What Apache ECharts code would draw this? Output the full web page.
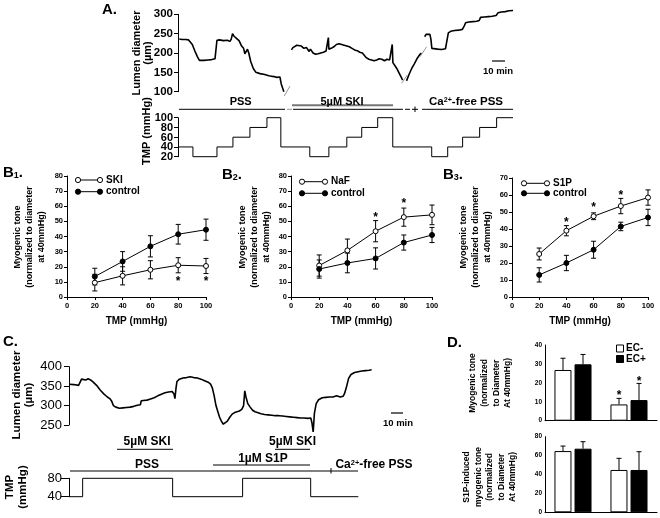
<!DOCTYPE html>
<html><head><meta charset="utf-8">
<script src="https://cdn.jsdelivr.net/npm/echarts@6/dist/echarts.min.js"></script>
<style>html,body{margin:0;padding:0;background:#fff}#c{width:660px;height:518px}</style>
</head><body><div id="c"></div>
<script>
// ---------------- DATA ----------------
// Panel A: lumen diameter trace (time in min, diameter in µm)
const aTraceSeg1 = [[1,236],[3,235],[6,235],[8,234],[9.5,232],[11,222],[13,205],[15,190],[16.5,181],[18,179],[20,181],[23,182],[26,183],[28.5,185],[29.5,186],[30,233],[32,234],[35,232],[38,233],[40,230],[41,236],[42,250],[43,244],[44,246],[45,238],[47,232],[49,218],[50.5,212],[51.5,198],[52.5,196],[53.5,210],[54.5,200],[56,178],[58,160],[60,150],[62,148],[64,146],[66,145],[68,143],[70,141],[72,140],[74,139],[76,137],[77.5,135],[78.5,138],[79.5,120],[80.5,110],[81.5,100]];
const aTraceSeg2 = [[87.4,208],[88.5,214],[90,218],[91.5,220],[93,216],[95,218],[97,212],[99,214],[101,204],[102,210],[104,200],[106,197],[108,198],[110,200],[112,202],[114,205],[115.5,207],[115.8,240],[116.2,210],[118,212],[120,216],[122,222],[124,224],[126,222],[128,220],[130,218],[132,216],[134,212],[136,208],[138,206],[140,202],[142,200],[143,195],[145,188],[147,184],[149,182],[151,180],[153,182],[155,185],[157,184],[159,180],[161,184],[163,182],[164.5,186],[165,222],[165.5,175],[167,170],[168.5,160],[170,150],[171.5,140],[173,130]];
const aTraceSeg2b = [[176,128],[178,145],[180,160],[182,172],[184,185],[186,195],[187.5,200]];
const aTraceSeg3 = [[190,242],[191,248],[192.5,250],[194,248],[194.8,235],[195.5,212],[197,209],[200,210],[203,209],[206,211],[207.5,215],[208.2,252],[210,256],[213,258],[216,259],[219,261],[220.5,270],[221.5,278],[224,280],[227,281],[230,282],[232,284],[233,292],[236,293],[239,294],[242,295],[245,297],[246.5,304],[249,306],[252,307],[255,309],[258,310]];
// Panel A: TMP protocol (change times in min, levels in mmHg)
const aTmpTimes = [0,11.5,30,42.3,55.4,68.5,79.2,101.5,116.2,130,141.5,153.8,165.4,195.4,207.7,219.2,232.3,245.4,258];
const aTmpLevels = [40,20,40,60,80,100,40,20,40,60,80,100,40,20,40,60,80,100];
const aTmpTicks = [20,40,60,80,100];

// Panel B: myogenic tone vs TMP
const tmpB = [20,40,60,80,100];
const b1SKI = [9.5,14,18,21,20.5];      const b1SKIErr = [5.5,6,6,5,5];
const b1Ctrl = [13.5,23.5,33.5,41.5,44.5]; const b1CtrlErr = [5.5,6.5,7,6.5,7];
const b1Stars = [[80,12.5],[100,12.5]];
const b2NaF = [20.8,30.8,43.5,52.8,54.3];  const b2NaFErr = [7,7.5,7,6,6.5];
const b2Ctrl = [18.5,22.5,25.5,36,41];     const b2CtrlErr = [6,6.5,7,5,5];
const b2Stars = [[60,55],[80,64]];
const b3S1P = [25.3,39,47.5,53.5,58.5];    const b3S1PErr = [3.5,3,2,4.5,4.5];
const b3Ctrl = [13,20,27.8,41.5,46.8];     const b3CtrlErr = [4.2,4.5,5,2.5,4.8];
const b3Stars = [[40,46],[60,54.5],[80,62]];

// Panel C: lumen diameter trace (time in min, µm)
const cTrace = [[0.3,355],[4,354],[8,352],[9.5,351],[10.5,368],[12,370],[14,366],[16,369],[18,366],[20,361],[23,352],[26,340],[29,330],[32,322],[34,318],[35.5,312],[37,300],[39,296],[42,293],[45,294],[48,295],[51,296],[54,298],[57,301],[59.5,302],[60.2,312],[62,313],[65,314],[68,317],[71,320],[74,325],[77,329],[80,333],[83,335],[86,336],[87.5,330],[88.3,318],[89.2,345],[90,362],[92,368],[95,371],[98,372],[101,374],[104,372],[107,371],[110,368],[113,364],[116,360],[118,355],[119.5,345],[121,325],[122.5,300],[124,285],[125.5,270],[127,260],[128.6,252],[130,253],[132,260],[134,270],[136,278],[138,282],[140,284],[142,286],[144,290],[145.5,300],[146.5,338],[147.5,322],[149,305],[151,296],[153,288],[155,284],[157,282],[158.5,284],[160,279],[163,277],[166,276],[169,275],[172,274],[175,274],[178,273],[181,272],[184,271],[187,270],[190,269],[193,268],[196,268],[199,267],[201.5,268],[202.5,255],[203.5,232],[204.5,280],[206,305],[208,315],[211,320],[214,321],[217,322],[220,322],[223,325],[226,322],[228.5,324],[229.5,330],[231,345],[233,370],[235,380],[238,385],[241,387],[244,389],[247,390],[250,391],[252.2,392]];
const cTmpTimes = [0.3,11.4,86.4,144.7,201.4,241.1];
const cTmpLevels = [40,80,40,80,40];

// Panel D: bars
const dCats = ['group 1','group 2'];
const dTopECm = [26.8,8.6];  const dTopECmErr = [6.2,3.2];
const dTopECp = [29.8,10.9]; const dTopECpErr = [5.2,8.8];
const dTopStars = [[1,15.3,'m'],[1,22.7,'p']];
const dBotECm = [64.8,44.8]; const dBotECmErr = [5.3,12.3];
const dBotECp = [67.3,44.8]; const dBotECpErr = [7.4,19.3];

// ---------------- HELPERS ----------------
const F = 'Liberation Sans, Arial, sans-serif';
function steps(times, levels){ const p=[]; for(let i=0;i<levels.length;i++){ p.push([times[i],levels[i]],[times[i+1],levels[i]]); } return p; }
function zip(xs, m, e){ return xs.map((x,i)=>[x,m[i],e[i]]); }
function errRender(capHalf, offset, upOnly){
  return function(params, api){
    const x=api.value(0), m=api.value(1), e=api.value(2);
    const a=api.coord([x, upOnly? m : m-e]), b=api.coord([x, m+e]);
    const cx=a[0]+offset, st={stroke:'#000', lineWidth:1};
    const ch=[{type:'line',shape:{x1:cx,y1:a[1],x2:cx,y2:b[1]},style:st},
              {type:'line',shape:{x1:cx-capHalf,y1:b[1],x2:cx+capHalf,y2:b[1]},style:st}];
    if(!upOnly) ch.push({type:'line',shape:{x1:cx-capHalf,y1:a[1],x2:cx+capHalf,y2:a[1]},style:st});
    return {type:'group', children:ch};
  };
}
function starRender(size, offsetFn){
  return function(params, api){
    const p=api.coord([api.value(0), api.value(1)]);
    const off = offsetFn ? offsetFn(params.dataIndex) : 0;
    return {type:'text', x:p[0]+off, y:p[1]+size*0.3, style:{text:'*', fill:'#000', fontSize:size, fontWeight:'bold', fontFamily:F, align:'center', verticalAlign:'middle', textAlign:'center', textVerticalAlign:'middle'}};
  };
}
const axisBase = (extra) => Object.assign({
  axisLine:{show:true, lineStyle:{color:'#000', width:1}},
  axisTick:{show:true, lineStyle:{color:'#000'}},
  splitLine:{show:false},
}, extra);
const lbl = (size, weight, margin) => ({color:'#000', fontSize:size, fontWeight:weight, fontFamily:F, margin:margin, hideOverlap:false, showMinLabel:true, showMaxLabel:true});

const grids = [
  {left:178, top:14.3, width:335, height:77.4},
  {left:178, top:117.7, width:335, height:39},
  {left:67, top:176, width:139, height:121},
  {left:291, top:176, width:141, height:121},
  {left:512, top:178, width:136, height:119},
  {left:65, top:366.7, width:307, height:58.3},
  {left:65, top:478.3, width:307, height:18.4},
  {left:545, top:345, width:112, height:75.7},
  {left:545, top:436.7, width:112, height:75.6}
];
const bX = (gi) => axisBase({type:'value', gridIndex:gi, min:0, max:100, interval:20, axisTick:{show:true, length:3, lineStyle:{color:'#000'}}, axisLabel:lbl(7.5,'bold',5), name:'TMP (mmHg)', nameLocation:'middle', nameGap:19, nameTextStyle:{color:'#000', fontSize:10, fontWeight:'bold', fontFamily:F}});
const xAxes = [
  {type:'value', gridIndex:0, min:0, max:258, show:false},
  {type:'value', gridIndex:1, min:0, max:258, show:false},
  bX(2), bX(3), bX(4),
  {type:'value', gridIndex:5, min:-3.3, max:252.5, show:false},
  {type:'value', gridIndex:6, min:-3.3, max:252.5, show:false},
  axisBase({type:'category', gridIndex:7, data:dCats, axisTick:{show:false}, axisLabel:{show:false}}),
  axisBase({type:'category', gridIndex:8, data:dCats, axisTick:{show:false}, axisLabel:{show:false}})
];
const yAxes = [
  axisBase({type:'value', gridIndex:0, min:100, max:300, interval:50, axisTick:{length:4, lineStyle:{color:'#000'}}, axisLabel:lbl(11.5,'bold',5)}),
  axisBase({type:'value', gridIndex:1, min:20, max:100, interval:20, axisTick:{length:4, lineStyle:{color:'#000'}}, axisLabel:{show:false}}),
  axisBase({type:'value', gridIndex:2, min:0, max:80, interval:10, axisTick:{length:3, lineStyle:{color:'#000'}}, axisLabel:lbl(7.5,'bold',4)}),
  axisBase({type:'value', gridIndex:3, min:0, max:80, interval:10, axisTick:{length:3, lineStyle:{color:'#000'}}, axisLabel:lbl(7.5,'bold',4)}),
  axisBase({type:'value', gridIndex:4, min:0, max:70, interval:10, axisTick:{length:3, lineStyle:{color:'#000'}}, axisLabel:lbl(7.5,'bold',4)}),
  axisBase({type:'value', gridIndex:5, min:250, max:400, interval:50, axisTick:{length:5, lineStyle:{color:'#000'}}, axisLabel:lbl(13,'normal',3)}),
  axisBase({type:'value', gridIndex:6, min:40, max:80, interval:40, axisTick:{length:8, lineStyle:{color:'#000'}}, axisLabel:lbl(13,'normal',3)}),
  axisBase({type:'value', gridIndex:7, min:0, max:40, interval:10, axisTick:{length:2, lineStyle:{color:'#000'}}, axisLabel:lbl(6.5,'bold',3)}),
  axisBase({type:'value', gridIndex:8, min:0, max:80, interval:20, axisTick:{length:2, lineStyle:{color:'#000'}}, axisLabel:lbl(6.5,'bold',3)})
];

const traceStyle = {color:'#000', width:1.6};
const tr = (name, data, ai) => ({type:'line', name, data, xAxisIndex:ai, yAxisIndex:ai, symbol:'none', clip:false, lineStyle:traceStyle, silent:true});
const bLine = (name, xs, ys, ai, open) => ({type:'line', name, xAxisIndex:ai, yAxisIndex:ai, data:xs.map((x,i)=>[x,ys[i]]), symbol:'circle', symbolSize:5, z:4,
  lineStyle:{color:'#000', width:1}, itemStyle: open? {color:'#fff', borderColor:'#000', borderWidth:1} : {color:'#000', borderColor:'#000', borderWidth:1}});
const errS = (name, data, ai, cap, off, up) => ({type:'custom', name, xAxisIndex:ai, yAxisIndex:ai, data, renderItem:errRender(cap, off, up), encode:{x:0, y:1}, z:3, silent:true});
const starS = (data, ai, size, offFn) => ({type:'custom', name:'significance', xAxisIndex:ai, yAxisIndex:ai, data, renderItem:starRender(size, offFn), encode:{x:0,y:1}, z:5, silent:true});
// TMP tick labels of panel A drawn through the axis scale (tight spacing like the original)
const tickLabelS = (vals, ai) => ({type:'custom', name:'TMP ticks', xAxisIndex:ai, yAxisIndex:ai, data:vals.map(v=>[0,v]), encode:{x:0,y:1}, silent:true, clip:false, z:6,
  renderItem:(params, api)=>{ const p=api.coord([0, api.value(1)]); return {type:'text', x:p[0]-5, y:p[1]+0.5, style:{text:String(api.value(1)), fill:'#000', fontSize:11, fontWeight:'bold', fontFamily:F, align:'right', verticalAlign:'middle', textAlign:'right', textVerticalAlign:'middle'}}; }});

const series = [
  tr('Lumen diameter', aTraceSeg1, 0), tr('Lumen diameter', aTraceSeg2, 0), tr('Lumen diameter', aTraceSeg2b, 0), tr('Lumen diameter', aTraceSeg3, 0),
  {type:'line', name:'TMP', data:steps(aTmpTimes, aTmpLevels), xAxisIndex:1, yAxisIndex:1, symbol:'none', lineStyle:{color:'#000', width:1}, silent:true, clip:false},
  tickLabelS(aTmpTicks, 1),
  // B1
  errS('SKI err', zip(tmpB, b1SKI, b1SKIErr), 2, 2.5, 0, false), errS('control err', zip(tmpB, b1Ctrl, b1CtrlErr), 2, 2.5, 0, false),
  bLine('SKI', tmpB, b1SKI, 2, true), bLine('control', tmpB, b1Ctrl, 2, false), starS(b1Stars, 2, 12),
  // B2
  errS('NaF err', zip(tmpB, b2NaF, b2NaFErr), 3, 2.5, 0, false), errS('control err', zip(tmpB, b2Ctrl, b2CtrlErr), 3, 2.5, 0, false),
  bLine('NaF', tmpB, b2NaF, 3, true), bLine('control', tmpB, b2Ctrl, 3, false), starS(b2Stars, 3, 12),
  // B3
  errS('S1P err', zip(tmpB, b3S1P, b3S1PErr), 4, 2.5, 0, false), errS('control err', zip(tmpB, b3Ctrl, b3CtrlErr), 4, 2.5, 0, false),
  bLine('S1P', tmpB, b3S1P, 4, true), bLine('control', tmpB, b3Ctrl, 4, false), starS(b3Stars, 4, 12),
  // C
  tr('Lumen diameter', cTrace, 5),
  {type:'line', name:'TMP', data:steps(cTmpTimes, cTmpLevels), xAxisIndex:6, yAxisIndex:6, symbol:'none', lineStyle:{color:'#000', width:1}, silent:true, clip:false},
  // D top
  {type:'bar', name:'EC-', data:dTopECm, xAxisIndex:7, yAxisIndex:7, barWidth:17, barGap:'18%', itemStyle:{color:'#fff', borderColor:'#000', borderWidth:1}},
  {type:'bar', name:'EC+', data:dTopECp, xAxisIndex:7, yAxisIndex:7, barWidth:17, barGap:'18%', itemStyle:{color:'#000', borderColor:'#000', borderWidth:1}},
  errS('EC- err', zip([0,1], dTopECm, dTopECmErr), 7, 2.5, -10, true), errS('EC+ err', zip([0,1], dTopECp, dTopECpErr), 7, 2.5, 10, true),
  starS(dTopStars.map(s=>[s[0],s[1]]), 7, 12, (i)=> dTopStars[i][2]==='m' ? -10 : 10),
  // D bottom
  {type:'bar', name:'EC-', data:dBotECm, xAxisIndex:8, yAxisIndex:8, barWidth:17, barGap:'18%', itemStyle:{color:'#fff', borderColor:'#000', borderWidth:1}},
  {type:'bar', name:'EC+', data:dBotECp, xAxisIndex:8, yAxisIndex:8, barWidth:17, barGap:'18%', itemStyle:{color:'#000', borderColor:'#000', borderWidth:1}},
  errS('EC- err', zip([0,1], dBotECm, dBotECmErr), 8, 2.5, -10, true), errS('EC+ err', zip([0,1], dBotECp, dBotECpErr), 8, 2.5, 10, true)
];

const chart = echarts.init(document.getElementById('c'), null, {renderer:'canvas'});
chart.setOption({animation:false, backgroundColor:'#fff', textStyle:{fontFamily:F}, grid:grids, xAxis:xAxes, yAxis:yAxes, series:series});

// ---------------- ANNOTATIONS ----------------
function T(x, y, text, size, opt){
  opt = opt || {};
  return {type:'text', x, y, rotation:opt.rot||0, z:100, silent:true,
    style:{text, fill:'#000', fontFamily:F, fontWeight:opt.weight||'bold', fontSize:size, lineHeight:opt.lh||size,
      align:opt.align||'center', verticalAlign:'middle', textAlign:opt.align||'center', textVerticalAlign:'middle', rich:opt.rich}};
}
function L(x1,y1,x2,y2,color,w){ return {type:'line', z:100, silent:true, shape:{x1,y1,x2,y2}, style:{stroke:color||'#000', lineWidth:w||1}}; }
function C(cx,cy,r,fill){ return {type:'circle', z:101, silent:true, shape:{cx,cy,r}, style:{fill, stroke:'#000', lineWidth:1}}; }
function legRow(x1,x2,y,label,open){ return [L(x1,y,x2,y), C(x1,y,2.6,open?'#fff':'#000'), C(x2,y,2.6,open?'#fff':'#000'), T(x2+6,y,label,10,{align:'left'})]; }
const R = Math.PI/2;
const caRich = (s)=>({n:{fontSize:s, fontWeight:'bold', fontFamily:F}, s:{fontSize:s*0.62, fontWeight:'bold', fontFamily:F, verticalAlign:'top'}});
const subRich = {n:{fontSize:15, fontWeight:'bold', fontFamily:F}, s:{fontSize:9, fontWeight:'bold', fontFamily:F, verticalAlign:'bottom'}};

const px0A = chart.convertToPixel({xAxisIndex:0}, 0), px10A = chart.convertToPixel({xAxisIndex:0}, 10);
const px0C = chart.convertToPixel({xAxisIndex:5}, 0), px10C = chart.convertToPixel({xAxisIndex:5}, 10);
const barA = px10A - px0A, barC = px10C - px0C;

const g = [
  // panel letters
  T(102,10,'A.',15,{align:'left'}),
  T(3,173,'{n|B}{s|1}{n|.}',15,{align:'left', rich:subRich}),
  T(222,175,'{n|B}{s|2}{n|.}',15,{align:'left', rich:subRich}),
  T(443,175,'{n|B}{s|3}{n|.}',15,{align:'left', rich:subRich}),
  T(3,342,'C.',15,{align:'left'}),
  T(447,343,'D.',15,{align:'left'}),
  // axis titles
  T(142,53,'Lumen diameter\n(\u00b5m)',11,{rot:R, lh:11}),
  T(147,131,'TMP (mmHg)',11,{rot:R}),
  T(29.5,237,'Myogenic tone\n(normalized to diameter\nat 40mmHg)',9,{rot:R, lh:12}),
  T(255,237,'Myogenic tone\n(normalized to diameter\nat 40mmHg)',9,{rot:R, lh:12}),
  T(476,237,'Myogenic tone\n(normalized to diameter\nat 40mmHg)',9,{rot:R, lh:12}),
  T(22.5,395,'Lumen diameter\n(\u00b5m)',11.5,{rot:R, lh:12}),
  T(16.5,487,'TMP\n(mmHg)',11.5,{rot:R, lh:13}),
  T(490.5,383,'Myogenic tone\n(normalized\nto Diameter\nAt 40mmHg)',8.5,{rot:R, lh:11.7}),
  T(490,477,'S1P-induced\nmyogenic tone\n(normalized\nto Diameter\nAt 40mmHg)',8.5,{rot:R, lh:11.5}),
  // panel A conditions
  L(179,109.3,285,109.3), L(287,109.3,292,109.3,'#999'), L(293,109.3,403,109.3),
  L(292,105.3,393,105.3,'#777',2), L(405,109.3,410,109.3), L(412,109.3,418,109.3), L(415,106.5,415,112),
  L(422,109.3,513,109.3),
  T(240.7,102,'PSS',11), T(342,101.5,'5\u00b5M SKI',11),
  T(466,102,'{n|Ca}{s|2+}{n|-free PSS}',11.5,{rich:caRich(11.5)}),
  // break marks
  L(284.3,96,290,86,'#999'), L(401.7,83.3,407.3,75,'#999'), L(420,56.7,426.7,46.7,'#999'),
  // scale bars
  L(505-barA,61,505,61,'#000',1.2), T(498,71,'10 min',9.5),
  L(403-barC,413,403,413,'#000',1.2), T(398,423,'10 min',9.5),
  // panel C conditions
  L(117,449.3,173,449.3), T(147,442,'5\u00b5M SKI',12),
  L(275,449.3,310,449.3), T(292.5,442,'5\u00b5M SKI',12),
  L(213,465,310,465), T(263,458.5,'1\u00b5M S1P',12),
  L(70,471,358,471), L(331,468,331,473.5), T(147,465,'PSS',12),
  T(374,465,'{n|Ca}{s|2+}{n|-free PSS}',12,{rich:caRich(12)}),
  // legends B
  ...legRow(78,100,180,'SKI',true), ...legRow(78,100,191.7,'control',false),
  ...legRow(302,325,181.7,'NaF',true), ...legRow(302,325,193.3,'control',false),
  ...legRow(524,547,183.3,'S1P',true), ...legRow(524,547,193.3,'control',false),
  // legend D
  {type:'rect', z:101, silent:true, shape:{x:616.5,y:345,width:7,height:7}, style:{fill:'#fff', stroke:'#000', lineWidth:1}},
  T(626,348.5,'EC-',10,{align:'left'}),
  {type:'rect', z:101, silent:true, shape:{x:616.5,y:355.5,width:7,height:7}, style:{fill:'#000', stroke:'#000', lineWidth:1}},
  T(626,359,'EC+',10,{align:'left'})
];
chart.setOption({graphic:{elements:g}});
</script></body></html>
